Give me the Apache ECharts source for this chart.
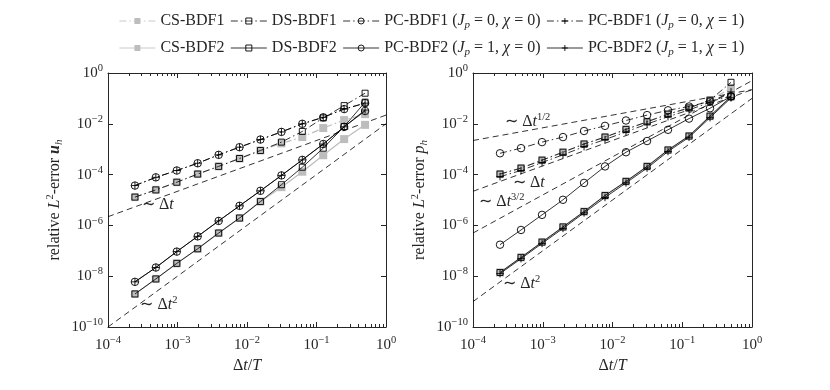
<!DOCTYPE html>
<html>
<head>
<meta charset="utf-8">
<script src="https://cdn.jsdelivr.net/npm/echarts@6/dist/echarts.min.js"></script>
<style>
  html, body { margin: 0; padding: 0; background: #fff; }
  #chart { width: 830px; height: 390px; }
</style>
</head>
<body>
<div id="chart"></div>
<script>
// time step sizes  dt/T = 2^-12 ... 2^-1
const dt = [0.000244, 0.000488, 0.000977, 0.00195, 0.00391, 0.00781, 0.0156, 0.0313, 0.0625, 0.125, 0.25, 0.5];

// left panel: relative L2-error of u_h
const uCS1  = [1.3e-5, 2.5e-5, 5.0e-5, 1.05e-4, 2.1e-4, 4.3e-4, 8.9e-4, 1.7e-3, 3.0e-3, 6.8e-3, 1.4e-2, 2.4e-2];
const uDS1  = [1.3e-5, 2.5e-5, 5.0e-5, 1.05e-4, 2.1e-4, 4.3e-4, 8.9e-4, 1.9e-3, 5.0e-3, 1.7e-2, 5.2e-2, 0.16];
const uPC10 = [3.7e-5, 7.8e-5, 1.45e-4, 2.8e-4, 6.0e-4, 1.2e-3, 2.4e-3, 4.8e-3, 1.0e-2, 1.8e-2, 3.8e-2, 6.5e-2];
const uPC11 = [3.7e-5, 7.8e-5, 1.45e-4, 2.8e-4, 6.0e-4, 1.2e-3, 2.4e-3, 4.8e-3, 1.0e-2, 1.8e-2, 3.8e-2, 6.5e-2];
const uCS2  = [2.0e-9, 7.8e-9, 3.2e-8, 1.2e-7, 5.0e-7, 1.95e-6, 8.7e-6, 3.2e-5, 1.3e-4, 5.8e-4, 2.5e-3, 9.1e-3];
const uDS2  = [2.0e-9, 7.8e-9, 3.2e-8, 1.2e-7, 5.0e-7, 1.95e-6, 8.7e-6, 4.0e-5, 1.95e-4, 1.1e-3, 7.8e-3, 7.1e-2];
const uPC20 = [6.0e-9, 2.2e-8, 9.3e-8, 3.7e-7, 1.5e-6, 5.9e-6, 2.3e-5, 9.3e-5, 3.8e-4, 1.6e-3, 7.6e-3, 3.2e-2];
const uPC21 = [6.0e-9, 2.2e-8, 9.3e-8, 3.7e-7, 1.5e-6, 5.9e-6, 2.3e-5, 9.3e-5, 3.8e-4, 1.6e-3, 7.6e-3, 3.5e-2];

// right panel: relative L2-error of p_h
const pCS1  = [1.05e-4, 1.8e-4, 3.7e-4, 7.6e-4, 1.6e-3, 3.0e-3, 6.0e-3, 1.2e-2, 2.4e-2, 4.2e-2, 8.5e-2, 0.26];
const pDS1  = [1.05e-4, 1.8e-4, 3.7e-4, 7.6e-4, 1.6e-3, 3.0e-3, 6.0e-3, 1.2e-2, 2.4e-2, 4.2e-2, 8.5e-2, 0.43];
const pPC10 = [6.9e-4, 1.1e-3, 1.9e-3, 3.0e-3, 5.2e-3, 8.3e-3, 1.35e-2, 2.2e-2, 3.4e-2, 4.8e-2, 7.6e-2, 0.12];
const pPC11 = [8.3e-5, 1.45e-4, 3.0e-4, 6.0e-4, 1.26e-3, 2.4e-3, 4.8e-3, 9.8e-3, 1.9e-2, 3.5e-2, 7.1e-2, 0.18];
const pCS2  = [1.4e-8, 5.5e-8, 2.2e-7, 8.7e-7, 3.5e-6, 1.5e-5, 5.4e-5, 2.1e-4, 9.3e-4, 3.3e-3, 2.0e-2, 0.117];
const pDS2  = [1.4e-8, 5.5e-8, 2.2e-7, 8.7e-7, 3.5e-6, 1.5e-5, 5.4e-5, 2.1e-4, 9.3e-4, 3.3e-3, 2.0e-2, 0.117];
const pPC20 = [1.74e-7, 6.6e-7, 2.6e-6, 1.02e-5, 4.7e-5, 2.1e-4, 7.6e-4, 2.1e-3, 5.8e-3, 1.6e-2, 4.1e-2, 0.12];
const pPC21 = [1.26e-8, 4.9e-8, 1.95e-7, 7.6e-7, 3.1e-6, 1.26e-5, 4.7e-5, 1.8e-4, 8.1e-4, 2.95e-3, 1.74e-2, 0.105];

// reference slopes, endpoints at dt/T = 1e-4 and 1
const refX = [1e-4, 1];
const uRef1 = [2.2e-6, 2.2e-2];
const uRef2 = [1e-10, 1e-2];
const pRefHalf = [2.2e-3, 0.22];
const pRef1 = [2.2e-5, 0.22];
const pRef32 = [5e-7, 0.5];
const pRef2 = [1e-9, 0.1];

// minor ticks of the log x axis
const minorX = [];
for (let d = -4; d < 0; d++) for (let k = 2; k <= 9; k++) minorX.push(k * Math.pow(10, d));

const FONT = 'Liberation Serif';
const INK = '#262626';
const GRAY = '#bdbdbd';
const DASHDOT = [7, 3, 1.5, 3];
const PLUS = 'path://M0,5L10,5M5,0L5,10';

const names = ['CS-BDF1', 'DS-BDF1', 'PC-BDF1 (J_p = 0, χ = 0)', 'PC-BDF1 (J_p = 0, χ = 1)',
               'CS-BDF2', 'DS-BDF2', 'PC-BDF2 (J_p = 1, χ = 0)', 'PC-BDF2 (J_p = 1, χ = 1)'];

const rich = {
  i: { fontFamily: FONT, fontStyle: 'italic', fontSize: 16, lineHeight: 20, color: INK },
  sub: { fontFamily: FONT, fontStyle: 'italic', fontSize: 11, lineHeight: 11, verticalAlign: 'bottom', color: INK },
  b: { fontFamily: FONT, fontSize: 15, lineHeight: 20, color: INK },
  s: { fontFamily: FONT, fontSize: 10.5, lineHeight: 9, verticalAlign: 'top', color: INK },
  bi: { fontFamily: FONT, fontStyle: 'italic', fontWeight: 'bold', fontSize: 16, lineHeight: 20, color: INK }
};

function pts(ys) { return dt.map((x, i) => [x, ys[i]]); }

function curve(name, ys, gi, kind) {
  const solid = name.indexOf('BDF2') >= 0;
  const s = {
    name: name, type: 'line', xAxisIndex: gi * 2, yAxisIndex: gi * 2,
    data: pts(ys), clip: false,
    lineStyle: { color: '#000', width: 0.8, type: solid ? 'solid' : DASHDOT },
    itemStyle: { color: 'transparent', borderColor: '#000', borderWidth: 0.9 },
    emphasis: { disabled: true }, z: 3
  };
  if (kind === 'cs') {
    s.symbol = 'rect'; s.symbolSize = 8; s.z = 2;
    s.lineStyle.color = GRAY; s.lineStyle.width = 1.2;
    s.itemStyle = { color: GRAY, borderWidth: 0 };
  } else if (kind === 'ds') {
    s.symbol = 'rect'; s.symbolSize = 6;
  } else if (kind === 'pc0') {
    s.symbol = 'circle'; s.symbolSize = 7.5;
  } else {
    s.symbol = PLUS; s.symbolSize = 7.5;
  }
  return s;
}

function refLine(ys, gi, label, at) {
  return {
    type: 'line', xAxisIndex: gi * 2, yAxisIndex: gi * 2, silent: true,
    data: refX.map((x, i) => [x, ys[i]]), symbol: 'none', clip: true,
    lineStyle: { color: '#000', width: 0.8, type: [6, 4] }, z: 1,
    markPoint: {
      symbol: 'circle', symbolSize: 0, silent: true,
      label: { show: true, formatter: label, rich: rich, color: INK, fontFamily: FONT, fontSize: 16 },
      data: [{ coord: at }]
    }
  };
}

function minorTicks(gi) {
  return {
    type: 'custom', xAxisIndex: gi * 2, yAxisIndex: gi * 2, silent: true, z: 4,
    data: minorX.map(v => [v, 1e-5]), clip: false,
    renderItem: function (params, api) {
      const b = api.coord([api.value(0), 1e-10]);
      const t = api.coord([api.value(0), 1]);
      const x = Math.round(b[0]) + 0.5;
      return { type: 'group', children: [
        { type: 'line', shape: { x1: x, y1: b[1], x2: x, y2: b[1] - 3 }, style: { stroke: INK, lineWidth: 1 } },
        { type: 'line', shape: { x1: x, y1: t[1], x2: x, y2: t[1] + 3 }, style: { stroke: INK, lineWidth: 1 } }
      ] };
    }
  };
}

function powLabel(v) {
  const e = Math.round(Math.log10(v));
  return '{b|10}{s|' + (e < 0 ? '−' : '') + Math.abs(e) + '}';
}

function xAxes(gi) {
  return [
    { gridIndex: gi, type: 'log', logBase: 10, min: 1e-4, max: 1, position: 'bottom',
      name: 'Δ{i|t}/{i|T}', nameLocation: 'middle', nameGap: 28,
      nameTextStyle: { fontFamily: FONT, fontSize: 16, color: INK, rich: rich },
      axisLine: { show: true, lineStyle: { color: INK, width: 1 } },
      axisTick: { show: true, inside: true, length: 5, lineStyle: { color: INK } },
      axisLabel: { formatter: powLabel, rich: rich, margin: 8, showMinLabel: true, showMaxLabel: true, hideOverlap: false },
      splitLine: { show: false } },
    { gridIndex: gi, type: 'log', logBase: 10, min: 1e-4, max: 1, position: 'top',
      axisLine: { show: true, lineStyle: { color: INK, width: 1 } },
      axisTick: { show: true, inside: true, length: 5, lineStyle: { color: INK } },
      axisLabel: { show: false }, splitLine: { show: false } }
  ];
}

function yAxes(gi, nameText) {
  return [
    { gridIndex: gi, type: 'log', logBase: 10, min: 1e-10, max: 1, interval: 2, position: 'left',
      name: nameText, nameLocation: 'middle', nameGap: 43, nameRotate: 90,
      nameTextStyle: { fontFamily: FONT, fontSize: 16, color: INK, rich: rich },
      axisLine: { show: true, lineStyle: { color: INK, width: 1 } },
      axisTick: { show: true, inside: true, length: 5, lineStyle: { color: INK } },
      axisLabel: { formatter: powLabel, rich: rich, margin: 5, showMinLabel: true, showMaxLabel: true, hideOverlap: false },
      splitLine: { show: false } },
    { gridIndex: gi, type: 'log', logBase: 10, min: 1e-10, max: 1, interval: 2, position: 'right',
      axisLine: { show: true, lineStyle: { color: INK, width: 1 } },
      axisTick: { show: true, inside: true, length: 5, lineStyle: { color: INK } },
      axisLabel: { show: false }, splitLine: { show: false } }
  ];
}

function legendFmt(name) {
  return name.replace(/\(J_p = (\d), χ = (\d)\)/, '({i|J}{sub|p} = $1, {i|χ} = $2)');
}

const legendBase = {
  left: 114, itemWidth: 36, itemHeight: 7.5, itemGap: 6, selectedMode: false,
  formatter: legendFmt,
  lineStyle: { width: 0.8 },
  itemStyle: { borderWidth: 0.9 },
  textStyle: { fontFamily: FONT, fontSize: 16, lineHeight: 20, color: INK, rich: rich }
};

const chart = echarts.init(document.getElementById('chart'), null, { renderer: 'canvas' });
chart.setOption({
  animation: false,
  backgroundColor: '#fff',
  textStyle: { fontFamily: FONT },
  legend: [
    Object.assign({ top: 6, data: names.slice(0, 4) }, legendBase),
    Object.assign({ top: 33, data: names.slice(4) }, legendBase)
  ],
  grid: [
    { left: 108, top: 73, width: 278, height: 254 },
    { left: 473, top: 73, width: 279, height: 254 }
  ],
  xAxis: xAxes(0).concat(xAxes(1)),
  yAxis: yAxes(0, 'relative {i|L}{s|2}-error {bi|u}{sub|h}').concat(yAxes(1, 'relative {i|L}{s|2}-error {i|p}{sub|h}')),
  series: [
    curve(names[0], uCS1, 0, 'cs'),
    curve(names[4], uCS2, 0, 'cs'),
    curve(names[1], uDS1, 0, 'ds'),
    curve(names[5], uDS2, 0, 'ds'),
    curve(names[2], uPC10, 0, 'pc0'),
    curve(names[6], uPC20, 0, 'pc0'),
    curve(names[3], uPC11, 0, 'pc1'),
    curve(names[7], uPC21, 0, 'pc1'),
    curve(names[0], pCS1, 1, 'cs'),
    curve(names[4], pCS2, 1, 'cs'),
    curve(names[1], pDS1, 1, 'ds'),
    curve(names[5], pDS2, 1, 'ds'),
    curve(names[2], pPC10, 1, 'pc0'),
    curve(names[6], pPC20, 1, 'pc0'),
    curve(names[3], pPC11, 1, 'pc1'),
    curve(names[7], pPC21, 1, 'pc1'),
    refLine(uRef1, 0, '∼ Δ{i|t}', [5.2e-4, 6.5e-6]),
    refLine(uRef2, 0, '∼ Δ{i|t}{s|2}', [5.4e-4, 7.6e-10]),
    refLine(pRefHalf, 1, '∼ Δ{i|t}{s|1/2}', [6.1e-4, 1.2e-2]),
    refLine(pRef1, 1, '∼ Δ{i|t}', [6.3e-4, 4.8e-5]),
    refLine(pRef32, 1, '∼ Δ{i|t}{s|3/2}', [2.6e-4, 8.5e-6]),
    refLine(pRef2, 1, '∼ Δ{i|t}{s|2}', [5.0e-4, 5.1e-9]),
    minorTicks(0),
    minorTicks(1)
  ]
});
</script>
</body>
</html>
